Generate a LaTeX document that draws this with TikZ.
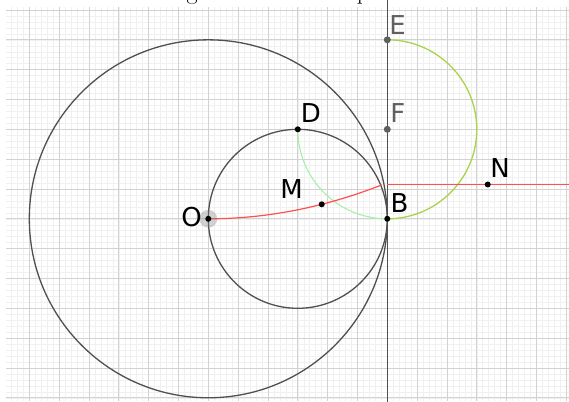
\documentclass[tikz,border=0pt]{standalone}
\usepackage{fontspec}
\newfontfamily\lblfont{DejaVu Sans}
\definecolor{minorgrid}{HTML}{F0F0F0}
\definecolor{majorgrid}{HTML}{D2D2D2}
\definecolor{circ}{HTML}{505050}
\definecolor{ygreen}{HTML}{A8D44A}
\definecolor{pgreen}{HTML}{A8F0A8}
\definecolor{redc}{HTML}{FF5050}
\definecolor{greypt}{HTML}{606060}
\begin{document}
\begin{tikzpicture}[x=29.83pt,y=29.83pt,
  geo/.style={draw=circ,line width=1.3pt},
  blackpt/.style={circle,fill=black,inner sep=0pt,minimum size=6pt},
  greypoint/.style={circle,fill=greypt,inner sep=0pt,minimum size=7pt},
  lbl/.style={font=\lblfont\fontsize{26}{26}\selectfont,inner sep=0pt,anchor=base west},
  glbl/.style={lbl,text=greypt},
  ttl/.style={font=\fontsize{24}{24}\selectfont,inner sep=0pt,anchor=base}]
\useasboundingbox (-6.983,-6.108) rectangle (12.092,7.335);
\begin{scope}
\clip (-6.983,-6.108) rectangle (12.092,7.335);
% title fragments (cut off at the top edge, as in the reference)
\node[ttl] (tg) at (-0.546,7.345) {g};
\node[ttl] (tp) at (5.186,7.345) {p};
% grid
\fill[white] (-6.782,-6.108) rectangle (12.092,7.100);
\draw[minorgrid,line width=0.5pt] (-6.782,-6.108) grid[step=0.2] (12.092,7.100);
\draw[majorgrid,line width=0.8pt] (-6.782,-6.108) grid[step=1] (12.092,7.100);
% named points
\coordinate (O) at (0,0);
\coordinate (B) at (6,0);
\coordinate (D) at (3,3);
\coordinate (E) at (6,6);
\coordinate (F) at (6,3);
\coordinate (M) at (3.803,0.486);
\coordinate (N) at (9.367,1.15);
\coordinate (C) at (3,0);
\coordinate (Vt) at (6,7.4);
\coordinate (Vb) at (6,-6.2);
\coordinate (Rs) at (6,1.15);
\coordinate (Re) at (12.2,1.15);
% circles
\draw[geo] (O) circle[radius=6];
\draw[geo] (C) circle[radius=3];
\draw[geo] (Vt) -- (Vb);
% arcs
\draw[ygreen,line width=1.3pt] (E) arc[start angle=90,end angle=-90,radius=3];
\draw[pgreen,line width=1.1pt] (D) arc[start angle=180,end angle=270,radius=3];
% red curves
\draw[redc,line width=1.2pt] plot[domain=0:5.81,samples=60,smooth] (\x,{0.0336*\x*\x});
\draw[redc,line width=1.2pt] (Rs) -- (Re);
% points
\fill[gray,opacity=0.35] (O) circle[radius=0.3];
\node[blackpt] (pO) at (O) {};
\node[blackpt] (pB) at (B) {};
\node[blackpt] (pD) at (D) {};
\node[blackpt] (pM) at (M) {};
\node[blackpt] (pN) at (N) {};
\node[greypoint] (pE) at (E) {};
\node[greypoint] (pF) at (F) {};
% labels
\node[glbl] (lE) at (6.063,6.185) {E};
\node[glbl] (lF) at (6.096,3.222) {F};
\node[lbl] (lD) at (3.100,3.222) {D};
\node[lbl] (lO) at (-0.907,-0.258) {O};
\node[lbl] (lM) at (2.409,0.664) {M};
\node[lbl] (lB) at (6.107,0.221) {B};
\node[lbl] (lN) at (9.449,1.391) {N};
\end{scope}
\end{tikzpicture}
\end{document}
